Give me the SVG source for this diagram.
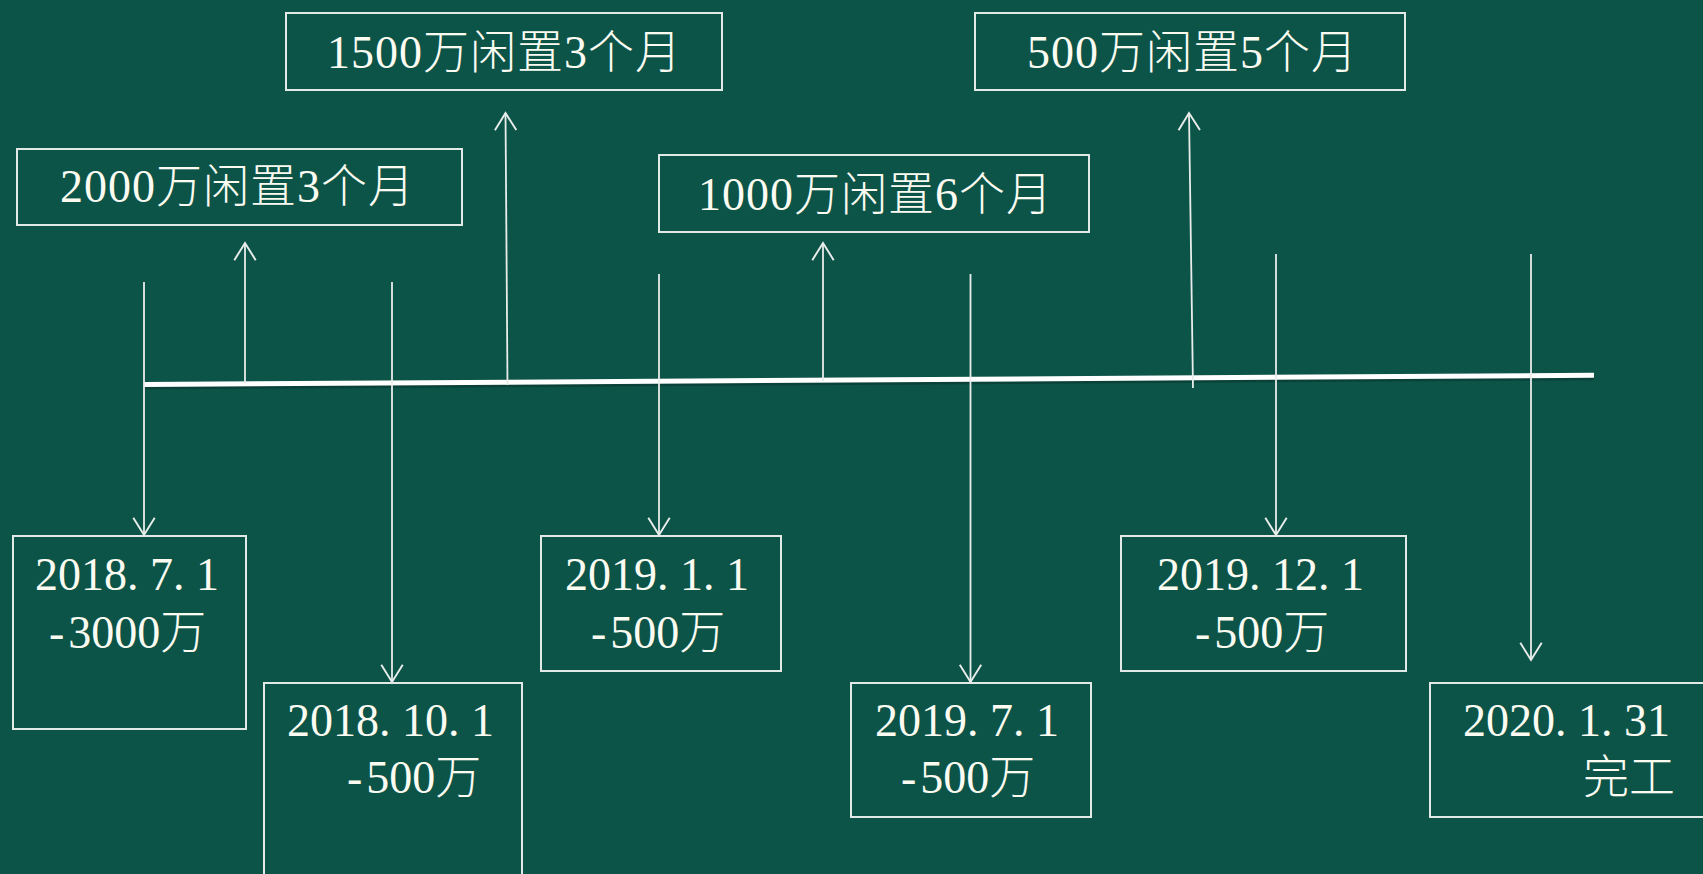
<svg xmlns="http://www.w3.org/2000/svg" width="1703" height="874" viewBox="0 0 1703 874">
<style>
.bx{fill:none;stroke:#e3e9e6;stroke-width:2}
.t{font-family:"Liberation Serif","Noto Sans CJK SC",serif;font-size:46px;font-weight:300;fill:#fbfbf2}
.c{stroke:#e8edeb;stroke-width:1.8;fill:none}
</style>
<defs>
<marker id="ah" markerUnits="userSpaceOnUse" markerWidth="30" markerHeight="30" viewBox="-20 -14 24 28" refX="0" refY="0" orient="auto">
<path d="M-16,-10 L0,0 L-16,10" fill="none" stroke="#e8edeb" stroke-width="1.8"/>
</marker>
</defs>
<rect width="1703" height="874" fill="#0d5448"/>
<g id="connectors">
<line x1="144" y1="387.5" x2="1594" y2="378.2" stroke="#000" stroke-opacity="0.22" stroke-width="4"/>
<line id="timeline" x1="144" y1="384.5" x2="1594" y2="375.2" stroke="#ffffff" stroke-width="5"/>
<line class="c" x1="144" y1="282" x2="144" y2="535" marker-end="url(#ah)"/>
<line class="c" x1="392" y1="282" x2="392" y2="682" marker-end="url(#ah)"/>
<line class="c" x1="659" y1="274" x2="659" y2="535" marker-end="url(#ah)"/>
<line class="c" x1="970.5" y1="274" x2="970.5" y2="682" marker-end="url(#ah)"/>
<line class="c" x1="1276" y1="254" x2="1276" y2="535" marker-end="url(#ah)"/>
<line class="c" x1="1531" y1="254" x2="1531" y2="660" marker-end="url(#ah)"/>
<line class="c" x1="245" y1="383" x2="245" y2="243" marker-end="url(#ah)"/>
<line class="c" x1="507.5" y1="385" x2="505.5" y2="113" marker-end="url(#ah)"/>
<line class="c" x1="823" y1="381" x2="823" y2="243" marker-end="url(#ah)"/>
<line class="c" x1="1193" y1="388" x2="1189" y2="113" marker-end="url(#ah)"/>
</g>
<g id="idle-2000">
<rect class="bx" x="17" y="149" width="445" height="76"/>
<text class="t" x="60" y="202" letter-spacing="1">2000万闲置3个月</text>
</g>
<g id="idle-1500">
<rect class="bx" x="286" y="13" width="436" height="77"/>
<text class="t" x="327" y="68" letter-spacing="1">1500万闲置3个月</text>
</g>
<g id="idle-1000">
<rect class="bx" x="659" y="155" width="430" height="77"/>
<text class="t" x="698" y="210" letter-spacing="1">1000万闲置6个月</text>
</g>
<g id="idle-500">
<rect class="bx" x="975" y="13" width="430" height="77"/>
<text class="t" x="1027" y="68" letter-spacing="1">500万闲置5个月</text>
</g>
<g id="d-2018-7-1">
<rect class="bx" x="13" y="536" width="233" height="193"/>
<text class="t" x="35" y="590">2018.<tspan dx="11.5">7.</tspan><tspan dx="11.5">1</tspan></text>
<text class="t" x="49" y="648">-<tspan dx="4">3000万</tspan></text>
</g>
<g id="d-2018-10-1">
<rect class="bx" x="264" y="683" width="258" height="200"/>
<text class="t" x="287" y="736">2018.<tspan dx="11.5">10.</tspan><tspan dx="11.5">1</tspan></text>
<text class="t" x="347" y="793">-<tspan dx="4">500万</tspan></text>
</g>
<g id="d-2019-1-1">
<rect class="bx" x="541" y="536" width="240" height="135"/>
<text class="t" x="565" y="590">2019.<tspan dx="11.5">1.</tspan><tspan dx="11.5">1</tspan></text>
<text class="t" x="591" y="648">-<tspan dx="4">500万</tspan></text>
</g>
<g id="d-2019-7-1">
<rect class="bx" x="851" y="683" width="240" height="134"/>
<text class="t" x="875" y="736">2019.<tspan dx="11.5">7.</tspan><tspan dx="11.5">1</tspan></text>
<text class="t" x="901" y="793">-<tspan dx="4">500万</tspan></text>
</g>
<g id="d-2019-12-1">
<rect class="bx" x="1121" y="536" width="285" height="135"/>
<text class="t" x="1157" y="590">2019.<tspan dx="11.5">12.</tspan><tspan dx="11.5">1</tspan></text>
<text class="t" x="1195" y="648">-<tspan dx="4">500万</tspan></text>
</g>
<g id="d-2020-1-31">
<rect class="bx" x="1430" y="683" width="290" height="134"/>
<text class="t" x="1463" y="736">2020.<tspan dx="11.5">1.</tspan><tspan dx="11.5">31</tspan></text>
<text class="t" x="1583" y="793">完工</text>
</g>
</svg>
